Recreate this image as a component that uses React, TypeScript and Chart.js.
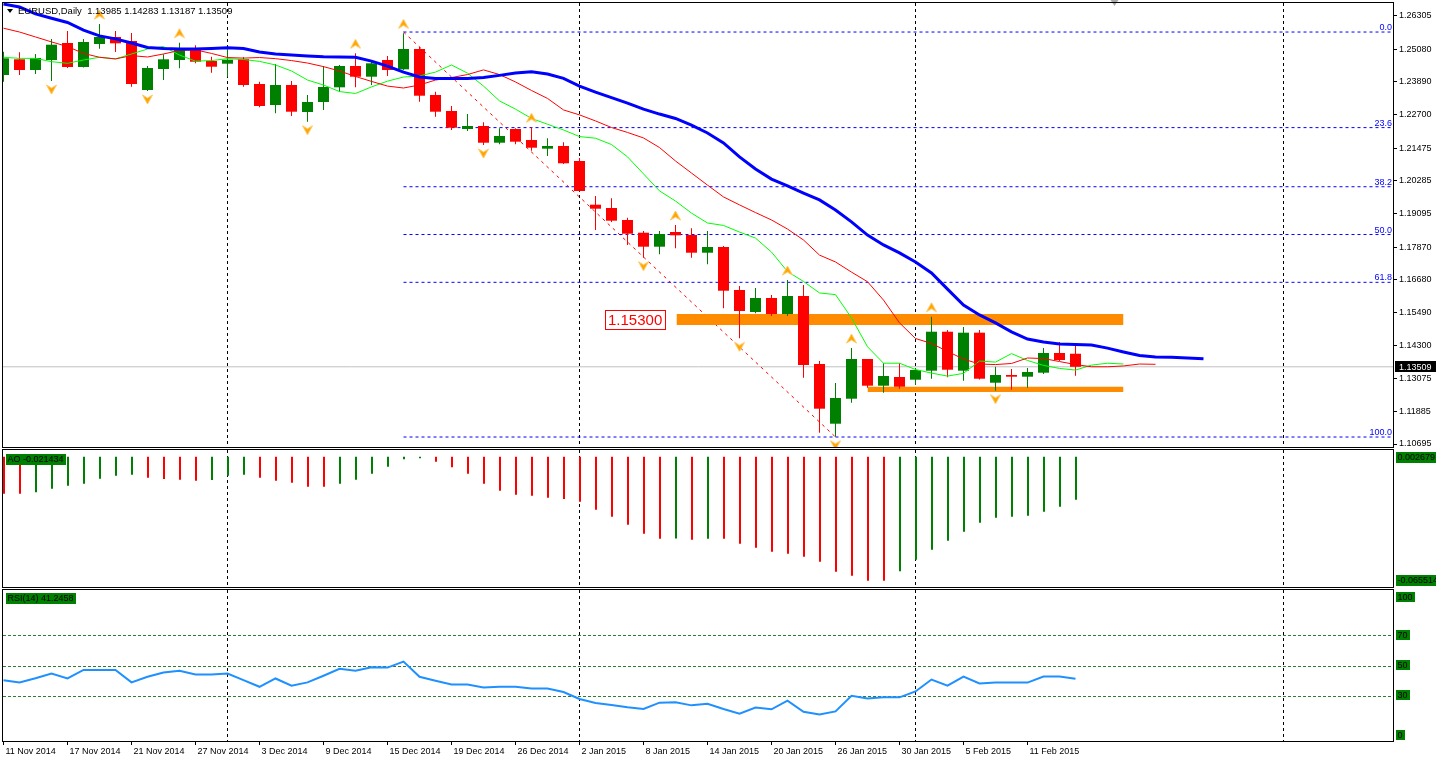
import React, { useEffect, useRef } from 'react';
import { Chart, registerables } from 'chart.js';

Chart.register(...registerables);

const FONT = '"Liberation Sans", Arial, sans-serif';
Chart.defaults.font.family = FONT;
Chart.defaults.font.size = 9;
Chart.defaults.color = '#000';

const GREEN = '#008000';
const RED = '#FF0000';
const ORANGE = '#FF8C00';

// ---------- data ----------
const dateLabels = ['11 Nov 2014', '17 Nov 2014', '21 Nov 2014', '27 Nov 2014', '3 Dec 2014', '9 Dec 2014', '15 Dec 2014', '19 Dec 2014', '26 Dec 2014', '2 Jan 2015', '8 Jan 2015', '14 Jan 2015', '20 Jan 2015', '26 Jan 2015', '30 Jan 2015', '5 Feb 2015', '11 Feb 2015'];
const barsPerLabel = 4;

const opens = [1.24144, 1.24716, 1.24326, 1.24690, 1.25310, 1.24435, 1.25274, 1.25529, 1.25383, 1.23597, 1.24362, 1.24690, 1.25055, 1.24654, 1.24556, 1.24727, 1.23816, 1.23050, 1.23779, 1.22795, 1.23160, 1.23695, 1.24472, 1.24082, 1.24690, 1.24351, 1.25091, 1.23415, 1.22832, 1.22176, 1.22285, 1.21676, 1.22176, 1.21775, 1.21458, 1.21556, 1.21009, 1.19417, 1.19296, 1.18859, 1.18396, 1.17886, 1.18422, 1.18312, 1.17667, 1.17875, 1.16308, 1.15506, 1.16016, 1.15433, 1.16089, 1.13611, 1.11435, 1.12346, 1.13793, 1.12820, 1.13137, 1.13039, 1.13367, 1.14788, 1.13367, 1.14752, 1.12929, 1.13210, 1.13148, 1.13294, 1.14012, 1.13985];
const highs = [1.24993, 1.24971, 1.24909, 1.25456, 1.25747, 1.25456, 1.26002, 1.25747, 1.25674, 1.24472, 1.24898, 1.25321, 1.25226, 1.24811, 1.25080, 1.24800, 1.23900, 1.24545, 1.23925, 1.23415, 1.24472, 1.24508, 1.24935, 1.24690, 1.24836, 1.25663, 1.25175, 1.23535, 1.23014, 1.22722, 1.22420, 1.22200, 1.22200, 1.22240, 1.21837, 1.21691, 1.21119, 1.19734, 1.19650, 1.18943, 1.18458, 1.18458, 1.18677, 1.18556, 1.18458, 1.17911, 1.16453, 1.16381, 1.16125, 1.16672, 1.16490, 1.13720, 1.12918, 1.14194, 1.13793, 1.13636, 1.13636, 1.13465, 1.15335, 1.14850, 1.14959, 1.14850, 1.13512, 1.13429, 1.13465, 1.14194, 1.14413, 1.14283];
const lows = [1.23900, 1.24144, 1.24180, 1.23925, 1.24399, 1.24417, 1.25102, 1.24982, 1.23717, 1.23560, 1.23961, 1.24388, 1.24570, 1.24228, 1.24082, 1.23717, 1.22966, 1.22748, 1.22649, 1.22442, 1.22868, 1.23535, 1.23695, 1.23779, 1.24107, 1.24326, 1.23170, 1.22624, 1.22139, 1.22103, 1.21592, 1.21618, 1.21618, 1.21385, 1.21192, 1.20900, 1.19898, 1.18495, 1.18786, 1.17948, 1.17485, 1.17609, 1.17828, 1.17485, 1.17244, 1.15641, 1.14547, 1.15459, 1.15360, 1.15360, 1.13111, 1.11107, 1.10961, 1.12200, 1.12747, 1.12565, 1.12711, 1.12845, 1.13075, 1.13126, 1.13002, 1.13046, 1.12638, 1.12674, 1.12747, 1.13247, 1.13720, 1.13187];
const closes = [1.24752, 1.24326, 1.24763, 1.25248, 1.24435, 1.25346, 1.25529, 1.25299, 1.23816, 1.24399, 1.24716, 1.25055, 1.24628, 1.24446, 1.24701, 1.23779, 1.23014, 1.23779, 1.22806, 1.23160, 1.23706, 1.24472, 1.24082, 1.24570, 1.24326, 1.25091, 1.23389, 1.22806, 1.22223, 1.22285, 1.21676, 1.21920, 1.21713, 1.21494, 1.21556, 1.20926, 1.19916, 1.19271, 1.18834, 1.18360, 1.17886, 1.18349, 1.18301, 1.17667, 1.17875, 1.16282, 1.15542, 1.16016, 1.15433, 1.16089, 1.13574, 1.11982, 1.12372, 1.13793, 1.12820, 1.13173, 1.12783, 1.13392, 1.14788, 1.13403, 1.14752, 1.13075, 1.13210, 1.13148, 1.13319, 1.14012, 1.13757, 1.13509];

// Alligator (jaw shifted 8, teeth shifted 5, lips shifted 3)
const jawLine = [1.2673, 1.2662, 1.2637, 1.2621, 1.2606, 1.2578, 1.2557, 1.2546, 1.2531, 1.2515, 1.2511, 1.2509, 1.2509, 1.2511, 1.2514, 1.2511, 1.2498, 1.2491, 1.2487, 1.2484, 1.2481, 1.2480, 1.2479, 1.2465, 1.2447, 1.2425, 1.2407, 1.2402, 1.2402, 1.2402, 1.2405, 1.2413, 1.2422, 1.2426, 1.2418, 1.2402, 1.2374, 1.2352, 1.2332, 1.2312, 1.2290, 1.2272, 1.2256, 1.2232, 1.2203, 1.2167, 1.2116, 1.2072, 1.2035, 1.2010, 1.1984, 1.1959, 1.1922, 1.1879, 1.1831, 1.1795, 1.1766, 1.1733, 1.1693, 1.1634, 1.1576, 1.1540, 1.1511, 1.1478, 1.1452, 1.1441, 1.1434, 1.1432, 1.1430, 1.1419, 1.1405, 1.1392, 1.1387, 1.1386, 1.1383, 1.1380];
const teethLine = [1.2585, 1.2571, 1.2553, 1.2535, 1.2518, 1.2493, 1.2479, 1.2473, 1.2485, 1.2480, 1.2491, 1.2504, 1.2506, 1.2493, 1.2478, 1.2476, 1.2478, 1.2474, 1.2467, 1.2458, 1.2445, 1.2429, 1.2409, 1.2391, 1.2374, 1.2367, 1.2378, 1.2396, 1.2405, 1.2416, 1.2433, 1.2416, 1.2389, 1.2358, 1.2329, 1.2287, 1.2269, 1.2247, 1.2223, 1.2205, 1.2185, 1.2150, 1.2101, 1.2057, 1.2013, 1.1970, 1.1941, 1.1913, 1.1886, 1.1853, 1.1813, 1.1758, 1.1733, 1.1696, 1.1661, 1.1594, 1.1511, 1.1454, 1.1436, 1.1407, 1.1379, 1.1361, 1.1359, 1.1363, 1.1383, 1.1381, 1.1370, 1.1359, 1.1351, 1.1351, 1.1354, 1.1361, 1.1360];
const lipsLine = [1.2479, 1.2475, 1.2475, 1.2463, 1.2457, 1.2469, 1.2479, 1.2473, 1.2491, 1.2509, 1.2518, 1.2487, 1.2465, 1.2467, 1.2474, 1.2471, 1.2464, 1.2451, 1.2429, 1.2396, 1.2378, 1.2354, 1.2347, 1.2371, 1.2392, 1.2407, 1.2411, 1.2425, 1.2451, 1.2421, 1.2374, 1.2320, 1.2290, 1.2256, 1.2235, 1.2214, 1.2190, 1.2184, 1.2161, 1.2116, 1.2054, 1.1992, 1.1955, 1.1911, 1.1875, 1.1866, 1.1842, 1.1820, 1.1769, 1.1698, 1.1662, 1.1620, 1.1614, 1.1529, 1.1424, 1.1364, 1.1364, 1.1341, 1.1328, 1.1317, 1.1327, 1.1372, 1.1368, 1.1399, 1.1374, 1.1356, 1.1345, 1.1339, 1.1357, 1.1364, 1.1361];

const fractalUpIdx = [6, 11, 22, 25, 33, 42, 49, 53, 58];
const fractalDownIdx = [3, 9, 19, 30, 40, 46, 52, 62];

const aoValues = [-0.01843, -0.01843, -0.01773, -0.01594, -0.01444, -0.01345, -0.01096, -0.00946, -0.00896, -0.01046, -0.01111, -0.01145, -0.01195, -0.01160, -0.00946, -0.00896, -0.01046, -0.01195, -0.01295, -0.01494, -0.01495, -0.01345, -0.01145, -0.00847, -0.00498, -0.00129, -0.00080, -0.00249, -0.00528, -0.00847, -0.01345, -0.01693, -0.01892, -0.01942, -0.02042, -0.02107, -0.02241, -0.02639, -0.02988, -0.03386, -0.03835, -0.04084, -0.04080, -0.04133, -0.04084, -0.04090, -0.04333, -0.04532, -0.04731, -0.04831, -0.04980, -0.05229, -0.05727, -0.05926, -0.06175, -0.06180, -0.05707, -0.05129, -0.04631, -0.04183, -0.03735, -0.03287, -0.03038, -0.02988, -0.02938, -0.02739, -0.02490, -0.02143];
const rsiValues = [40.3, 38.8, 41.6, 44.7, 41.4, 47.1, 47.1, 47.1, 38.8, 42.5, 45.3, 46.5, 44.0, 44.0, 44.7, 40.3, 35.9, 41.4, 36.6, 38.8, 43.2, 47.8, 46.5, 48.9, 48.6, 52.6, 42.5, 39.9, 37.4, 37.4, 35.5, 35.9, 35.9, 34.8, 34.8, 32.4, 27.8, 25.2, 23.9, 22.3, 21.2, 25.4, 25.6, 23.6, 24.7, 21.2, 18.1, 22.1, 21.0, 26.7, 19.4, 17.5, 19.6, 30.0, 28.2, 28.9, 28.9, 32.8, 40.7, 36.6, 42.7, 38.1, 38.7, 38.7, 38.7, 42.7, 42.7, 41.25];

const priceTicks = [1.26305, 1.25080, 1.23890, 1.22700, 1.21475, 1.20285, 1.19095, 1.17870, 1.16680, 1.15490, 1.14300, 1.13075, 1.11885, 1.10695];
const priceMin = 1.10586;
const priceMax = 1.26768;

const fibLevels = [0, 23.6, 38.2, 50, 61.8, 100];
const fibHigh = 1.2571;
const fibLow = 1.1095;
const fibStartIdx = 25;
const fibEndIdx = 52;

const bidPrice = 1.13509;
const titleText = 'EURUSD,Daily  1.13985 1.14283 1.13187 1.13509';
const zoneUpper = { from: 42.06, to: 70, top: 1.15433, bottom: 1.15032, label: '1.15300' };
const zoneLower = { from: 54, to: 70, top: 1.12783, bottom: 1.12590 };
const gridIdx = [14, 36, 57, 80];
const shiftMarkerIdx = 69.4;

const aoLabel = 'AO -0.021434';
const aoAxisLabels = ['0.002679', '-0.065514'];
const aoAxisMin = -0.0649;
const aoAxisMax = 0.0033;
const rsiLabel = 'RSI(14) 41.2458';
const rsiLevels = [70, 50, 30];
const rsiAxisLabels = [100, 70, 50, 30, 0];

// x-scale extents (index units, 16 px per bar)
const X_MIN = -0.03125;
const X_MAX = 86.90625;
const AO_X_MIN = -0.0625;
const AO_X_MAX = 86.875;

const fibPrice = (l: number) => fibHigh - (fibHigh - fibLow) * l / 100;
const candleColor = (i: number) => (closes[i] >= opens[i] ? GREEN : RED);
const aoColor = (i: number) => (i > 0 && aoValues[i] > aoValues[i - 1] ? GREEN : RED);

function makeArrow(up: boolean): HTMLCanvasElement {
  const c = document.createElement('canvas');
  c.width = 13;
  c.height = 40;
  const g = c.getContext('2d') as CanvasRenderingContext2D;
  g.beginPath();
  if (up) {
    g.moveTo(6.5, 6); g.lineTo(11.5, 15); g.lineTo(6.5, 12); g.lineTo(1.5, 15);
  } else {
    g.moveTo(6.5, 33); g.lineTo(11.5, 24); g.lineTo(6.5, 27); g.lineTo(1.5, 24);
  }
  g.closePath();
  g.fillStyle = '#FFA500';
  g.fill();
  g.strokeStyle = '#FFC860';
  g.lineWidth = 1;
  g.stroke();
  return c;
}

function labelBox(ctx: any, text: string, x: number, y: number, h: number, bg: string, fg: string, font: string) {
  ctx.font = font;
  const w = Math.ceil(ctx.measureText(text).width) + 3;
  ctx.fillStyle = bg;
  ctx.fillRect(x, y, w, h);
  ctx.fillStyle = fg;
  ctx.textAlign = 'left';
  ctx.textBaseline = 'middle';
  ctx.fillText(text, x + 1.5, y + h / 2 + 0.5);
}

const noScalePadding = (s: any) => {
  s.paddingTop = 0;
  s.paddingBottom = 0;
  s.paddingLeft = 0;
  s.paddingRight = 0;
};

const vGridPlugin = {
  id: 'vgrid',
  beforeDatasetsDraw(chart: any) {
    const { ctx, chartArea: a } = chart;
    const x = chart.scales.x;
    ctx.save();
    ctx.strokeStyle = '#000';
    ctx.lineWidth = 1;
    ctx.setLineDash([3, 3]);
    for (const v of gridIdx) {
      const px = Math.ceil(x.getPixelForValue(v) - 1) + 0.5;
      if (px > a.right) continue;
      ctx.beginPath();
      ctx.moveTo(px, a.top);
      ctx.lineTo(px, a.bottom);
      ctx.stroke();
    }
    ctx.restore();
  },
};

const framePlugin = {
  id: 'frame',
  afterDraw(chart: any) {
    const { ctx, chartArea: a } = chart;
    ctx.save();
    ctx.strokeStyle = '#000';
    ctx.lineWidth = 1;
    ctx.setLineDash([]);
    ctx.strokeRect(a.left - 0.5, a.top - 0.5, a.right - a.left, a.bottom - a.top + 1);
    ctx.restore();
  },
};

const baseOptions = {
  responsive: false,
  animation: false,
  events: [],
  plugins: { legend: { display: false }, tooltip: { enabled: false } },
};

function buildPrice(canvas: HTMLCanvasElement) {
  const upImg = makeArrow(true);
  const downImg = makeArrow(false);
  const line = (data: any[], color: string, width: number, order: number, dash: number[] = []) => ({
    type: 'line', data, borderColor: color, borderWidth: width, borderDash: dash, pointRadius: 0, tension: 0, fill: false, order,
  });
  const zone = (z: any) => [
    { type: 'line', data: [{ x: z.from, y: z.top }, { x: z.to, y: z.top }], borderColor: 'transparent', borderWidth: 0, pointRadius: 0, fill: '+1', backgroundColor: ORANGE, order: 5 },
    { type: 'line', data: [{ x: z.from, y: z.bottom }, { x: z.to, y: z.bottom }], borderColor: 'transparent', borderWidth: 0, pointRadius: 0, fill: false, order: 5 },
  ];
  const datasets: any[] = [
    ...fibLevels.map((l) => line([{ x: fibStartIdx, y: fibPrice(l) }, { x: X_MAX, y: fibPrice(l) }], '#0000FF', 1, 6, [3, 3])),
    line([{ x: fibStartIdx, y: fibHigh }, { x: fibEndIdx, y: fibLow }], RED, 1, 6, [3, 4]),
    line([{ x: X_MIN, y: bidPrice }, { x: X_MAX, y: bidPrice }], '#C0C0C0', 1, 6),
    ...zone(zoneUpper),
    ...zone(zoneLower),
    {
      type: 'bar', data: lows.map((l, i) => ({ x: i, y: [l, highs[i]] })),
      backgroundColor: opens.map((_, i) => candleColor(i)), barThickness: 1, maxBarThickness: 1,
      grouped: false, inflateAmount: 0, borderWidth: 0, order: 4,
    },
    {
      type: 'bar', data: opens.map((o, i) => ({ x: i, y: [o, closes[i]] })),
      backgroundColor: opens.map((_, i) => candleColor(i)), barThickness: 11, maxBarThickness: 11,
      grouped: false, inflateAmount: 0, borderWidth: 0, minBarLength: 1, order: 3,
    },
    line(jawLine.map((v, i) => ({ x: i, y: v })), '#0000FF', 3, 2),
    line(teethLine.map((v, i) => ({ x: i, y: v })), RED, 1, 2),
    line(lipsLine.map((v, i) => ({ x: i, y: v })), '#00FF00', 1, 2),
    { type: 'line', showLine: false, data: fractalUpIdx.map((i) => ({ x: i, y: highs[i] })), pointStyle: upImg, pointRadius: 6, order: 1 },
    { type: 'line', showLine: false, data: fractalDownIdx.map((i) => ({ x: i, y: lows[i] })), pointStyle: downImg, pointRadius: 6, order: 1 },
  ];

  const overlay = {
    id: 'priceOverlay',
    afterDraw(chart: any) {
      const { ctx, chartArea: a } = chart;
      const x = chart.scales.x;
      const y = chart.scales.y;
      ctx.save();
      // fib labels
      ctx.font = `9px ${FONT}`;
      ctx.fillStyle = '#0000FF';
      ctx.textAlign = 'right';
      ctx.textBaseline = 'alphabetic';
      fibLevels.forEach((l) => ctx.fillText(l.toFixed(1), a.right - 2, y.getPixelForValue(fibPrice(l)) - 2));
      // zone label
      ctx.font = `15px ${FONT}`;
      const tw = ctx.measureText(zoneUpper.label).width;
      const bw = Math.ceil(tw) + 6;
      const bh = 20;
      const bx = Math.round(x.getPixelForValue(zoneUpper.from)) - 10 - bw;
      const by = Math.round(y.getPixelForValue((zoneUpper.top + zoneUpper.bottom) / 2) - bh / 2);
      ctx.fillStyle = '#fff';
      ctx.fillRect(bx, by, bw, bh);
      ctx.strokeStyle = RED;
      ctx.lineWidth = 1;
      ctx.strokeRect(bx + 0.5, by + 0.5, bw - 1, bh - 1);
      ctx.fillStyle = RED;
      ctx.textAlign = 'left';
      ctx.textBaseline = 'middle';
      ctx.fillText(zoneUpper.label, bx + 3, by + bh / 2 + 1);
      // title
      ctx.fillStyle = '#000';
      ctx.beginPath();
      ctx.moveTo(a.left + 4, a.top + 6);
      ctx.lineTo(a.left + 10, a.top + 6);
      ctx.lineTo(a.left + 7, a.top + 10);
      ctx.closePath();
      ctx.fill();
      ctx.font = `9.5px ${FONT}`;
      ctx.textBaseline = 'middle';
      ctx.fillText(titleText, a.left + 15, a.top + 8.5);
      // shift marker
      const sx = Math.round(x.getPixelForValue(shiftMarkerIdx)) + 0.5;
      ctx.fillStyle = '#A8A8A8';
      ctx.beginPath();
      ctx.moveTo(sx - 4, 0);
      ctx.lineTo(sx + 4, 0);
      ctx.lineTo(sx, 6);
      ctx.closePath();
      ctx.fill();
      // current price label
      const py = y.getPixelForValue(bidPrice);
      ctx.fillStyle = '#000';
      ctx.fillRect(a.right + 1, Math.round(py - 5.5), chart.width - a.right - 1, 11);
      ctx.fillStyle = '#fff';
      ctx.font = `9px ${FONT}`;
      ctx.textAlign = 'left';
      ctx.textBaseline = 'middle';
      ctx.fillText(bidPrice.toFixed(5), a.right + 5, Math.round(py) + 0.5);
      ctx.restore();
    },
  };

  return new Chart(canvas, {
    type: 'bar',
    data: { datasets },
    options: {
      ...baseOptions,
      layout: { padding: { left: 3, top: 3, right: 0, bottom: 2 }, autoPadding: false },
      scales: {
        x: { type: 'linear', min: X_MIN, max: X_MAX, display: false, offset: false, grid: { offset: false } },
        y: {
          type: 'linear', position: 'right', min: priceMin, max: priceMax, beginAtZero: false,
          afterFit: (s: any) => { s.width = 42; noScalePadding(s); },
          afterBuildTicks: (s: any) => { s.ticks = priceTicks.map((v) => ({ value: v })); },
          ticks: { callback: (v: any) => Number(v).toFixed(5), padding: 2, autoSkip: false, color: '#000', font: { size: 9, family: FONT } },
          grid: { drawOnChartArea: false, drawTicks: true, tickLength: 3, color: '#000' },
          border: { display: false },
        },
      },
    } as any,
    plugins: [vGridPlugin, overlay, framePlugin],
  } as any);
}

function buildAO(canvas: HTMLCanvasElement) {
  const overlay = {
    id: 'aoOverlay',
    afterDraw(chart: any) {
      const { ctx, chartArea: a } = chart;
      ctx.save();
      const f = `9px ${FONT}`;
      labelBox(ctx, aoLabel, a.left + 3, a.top + 4, 11, GREEN, '#000', f);
      labelBox(ctx, aoAxisLabels[0], a.right + 2, a.top + 2, 11, GREEN, '#000', f);
      labelBox(ctx, aoAxisLabels[1], a.right + 2, a.bottom - 12, 11, GREEN, '#000', f);
      ctx.restore();
    },
  };
  return new Chart(canvas, {
    type: 'bar',
    data: {
      datasets: [{
        data: aoValues.map((v, i) => ({ x: i, y: v })),
        backgroundColor: aoValues.map((_, i) => aoColor(i)),
        barThickness: 2, maxBarThickness: 2, inflateAmount: 0, borderWidth: 0,
      }],
    },
    options: {
      ...baseOptions,
      layout: { padding: { left: 3, top: 1, right: 0, bottom: 2 }, autoPadding: false },
      scales: {
        x: { type: 'linear', min: AO_X_MIN, max: AO_X_MAX, display: false, offset: false, grid: { offset: false } },
        y: {
          type: 'linear', position: 'right', min: aoAxisMin, max: aoAxisMax, beginAtZero: false,
          afterFit: (s: any) => { s.width = 42; noScalePadding(s); },
          ticks: { display: false }, grid: { display: false }, border: { display: false },
        },
      },
    } as any,
    plugins: [vGridPlugin, overlay, framePlugin],
  } as any);
}

function buildRSI(canvas: HTMLCanvasElement) {
  const levels = {
    id: 'rsiLevels',
    beforeDatasetsDraw(chart: any) {
      const { ctx, chartArea: a } = chart;
      const y = chart.scales.y;
      ctx.save();
      ctx.strokeStyle = '#2E7D32';
      ctx.lineWidth = 1;
      ctx.setLineDash([3, 2]);
      rsiLevels.forEach((l) => {
        const py = Math.round(y.getPixelForValue(l)) + 0.5;
        ctx.beginPath();
        ctx.moveTo(a.left, py);
        ctx.lineTo(a.right, py);
        ctx.stroke();
      });
      ctx.restore();
    },
    afterDraw(chart: any) {
      const { ctx, chartArea: a } = chart;
      const y = chart.scales.y;
      ctx.save();
      const f = `9px ${FONT}`;
      labelBox(ctx, rsiLabel, a.left + 3, a.top + 3, 11, GREEN, '#000', f);
      rsiAxisLabels.forEach((v) => {
        let top = Math.round(y.getPixelForValue(v) - 5.5);
        top = Math.max(a.top + 2, Math.min(a.bottom - 11, top));
        labelBox(ctx, String(v), a.right + 2, top, 10, GREEN, '#000', f);
      });
      ctx.restore();
    },
  };
  return new Chart(canvas, {
    type: 'line',
    data: {
      datasets: [{
        data: rsiValues.map((v, i) => ({ x: i, y: v })),
        borderColor: '#1E90FF', borderWidth: 2, pointRadius: 0, tension: 0, fill: false,
      }],
    },
    options: {
      ...baseOptions,
      layout: { padding: { left: 3, top: 1, right: 0, bottom: 0 }, autoPadding: false },
      scales: {
        x: {
          type: 'linear', position: 'bottom', min: X_MIN, max: X_MAX, offset: false,
          afterFit: (s: any) => { s.height = 19; noScalePadding(s); },
          afterBuildTicks: (s: any) => { s.ticks = dateLabels.map((_, k) => ({ value: k * barsPerLabel })); },
          ticks: {
            callback: (v: any) => dateLabels[Math.round(Number(v) / barsPerLabel)],
            align: 'start', maxRotation: 0, minRotation: 0, autoSkip: false, padding: 1, labelOffset: 2,
            color: '#000', font: { size: 9, family: FONT },
          },
          grid: { drawOnChartArea: false, drawTicks: true, tickLength: 4, color: '#000' },
          border: { display: false },
        },
        y: {
          type: 'linear', position: 'right', min: 0, max: 100,
          afterFit: (s: any) => { s.width = 42; noScalePadding(s); },
          ticks: { display: false }, grid: { display: false }, border: { display: false },
        },
      },
    } as any,
    plugins: [vGridPlugin, levels, framePlugin],
  } as any);
}

export default function App() {
  const priceRef = useRef<HTMLCanvasElement>(null);
  const aoRef = useRef<HTMLCanvasElement>(null);
  const rsiRef = useRef<HTMLCanvasElement>(null);

  useEffect(() => {
    const charts = [
      buildPrice(priceRef.current as HTMLCanvasElement),
      buildAO(aoRef.current as HTMLCanvasElement),
      buildRSI(rsiRef.current as HTMLCanvasElement),
    ];
    return () => charts.forEach((c) => c.destroy());
  }, []);

  return (
    <div style={{ position: 'fixed', left: 0, top: 0, width: 1436, height: 760, background: '#fff', overflow: 'hidden' }}>
      <canvas ref={priceRef} width={1436} height={449} style={{ position: 'absolute', left: 0, top: 0 }} />
      <canvas ref={aoRef} width={1436} height={140} style={{ position: 'absolute', left: 0, top: 449 }} />
      <canvas ref={rsiRef} width={1436} height={171} style={{ position: 'absolute', left: 0, top: 589 }} />
    </div>
  );
}
